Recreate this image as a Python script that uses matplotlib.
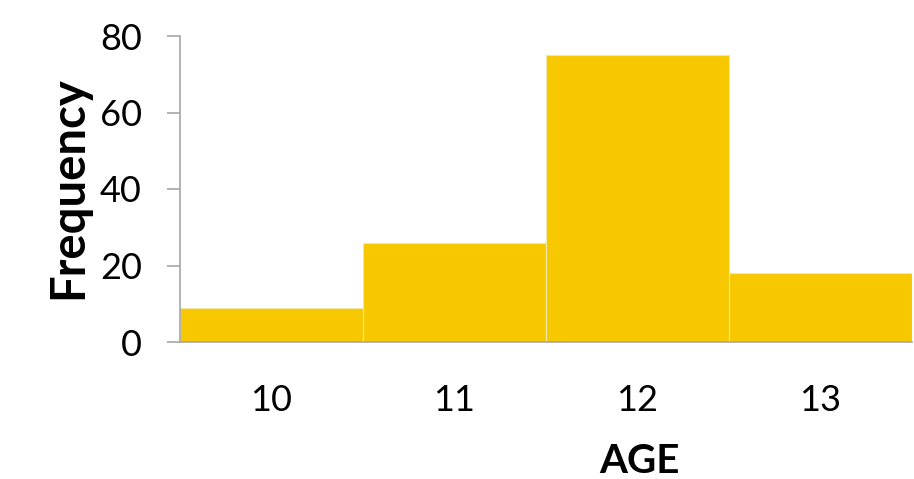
import matplotlib.pyplot as plt

# frecuencia por edad
ages = [10, 11, 12, 13]
freq = [9, 26, 75, 18]
yticks = [0, 20, 40, 60, 80]

plt.rcParams['font.family'] = ['Lato', 'DejaVu Sans']

fig = plt.figure(figsize=(9.14, 4.79), dpi=100)
ax = fig.add_axes([180/914, 1 - 342/479, 732/914, 306/479])

ax.bar(ages, freq, width=1.0, color='#F7C800', edgecolor='#f3e6a8', linewidth=0.8)

ax.set_xlim(9.5, 13.5)
ax.set_ylim(0, 80)
ax.set_yticks(yticks)
ax.set_xticks(ages)

for s in ['top', 'right']:
    ax.spines[s].set_visible(False)
for s in ['left', 'bottom']:
    ax.spines[s].set_color('#a6a6a6')
    ax.spines[s].set_linewidth(1.2)

ax.tick_params(axis='y', length=9.5, width=1.2, color='#a6a6a6', pad=18, labelsize=26)
ax.tick_params(axis='x', length=0, pad=30, labelsize=26)

ax.set_ylabel('Frequency', fontsize=34, fontweight='bold', va='center')
ax.yaxis.set_label_coords(-0.153, 0.505)
ax.set_xlabel('AGE', fontsize=29, fontweight='bold', va='center')
ax.xaxis.set_label_coords(0.628, -0.392)

plt.savefig('out.png', dpi=100)
